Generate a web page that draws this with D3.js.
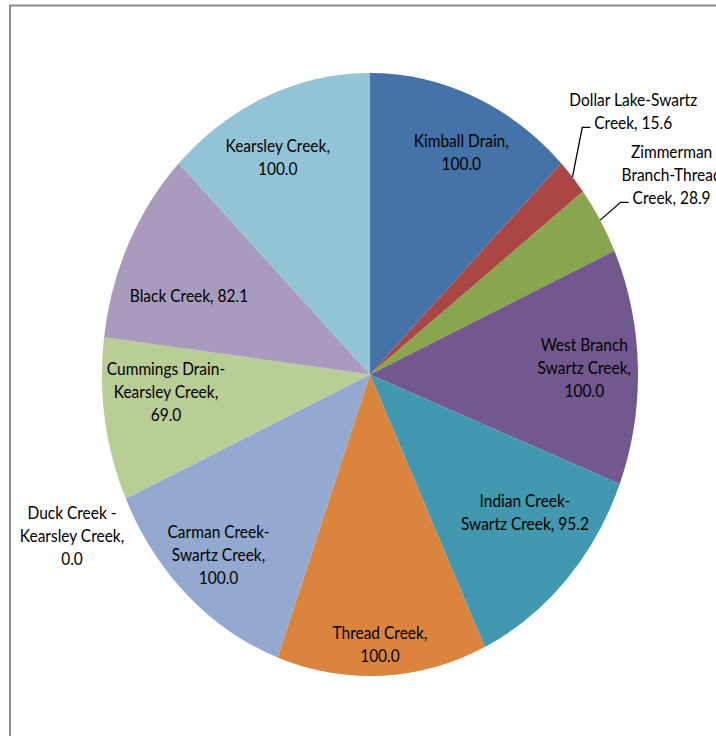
<!DOCTYPE html>
<html>
<head>
<meta charset="utf-8">
<script src="https://cdn.jsdelivr.net/npm/d3@7"></script>
<style>
  html, body { margin: 0; padding: 0; background: #fff; }
  svg { display: block; }
  .lbl { font-family: Lato, "Liberation Sans", sans-serif; font-size: 15.5px; fill: #000; }
</style>
</head>
<body>
<div id="chart"></div>
<script>
// Slice names ("\n" = where the label wraps inside the name)
const categories = [
    "Kimball Drain",
    "Dollar Lake-Swartz\nCreek",
    "Zimmerman\nBranch-Thread\nCreek",
    "West Branch\nSwartz Creek",
    "Indian Creek-\nSwartz Creek",
    "Thread Creek",
    "Carman Creek-\nSwartz Creek",
    "Duck Creek -\nKearsley Creek",
    "Cummings Drain-\nKearsley Creek",
    "Black Creek",
    "Kearsley Creek"
];
const values = [100.0, 15.6, 28.9, 100.0, 95.2, 100.0, 100.0, 0.0, 69.0, 82.1, 100.0];
// does the value go on its own line?
const valueOnNewLine = [true, false, false, true, false, true, true, true, true, false, true];

const colors = ["#4572A7", "#AA4643", "#89A54E", "#71588F", "#4198AF", "#DB843D",
    "#93A9CF", "#D19392", "#B9CD96", "#A99BBD", "#93C4D5"];

// label placement (fraction of radius, horizontal / vertical), Excel "best fit" look
const labelRx = [0.88, 1.30, 1.31, 0.80, 0.79, 0.82, 0.83, 1.22, 0.77, 0.75, 0.89];
const labelRy = [0.80, 1.33, 1.29, 0.80, 0.67, 0.895, 0.82, 1.30, 0.39, 0.60, 0.78];
const hasLeader = [false, true, true, false, false, false, false, false, false, false, false];

const width = 716, height = 736;
const cx = 370, cy = 374.5;
const rx = 268, ry = 301.5;
const stretch = ry / rx;
const lineH = 23;

const svg = d3.select("#chart").append("svg")
    .attr("width", width)
    .attr("height", height);

// chart frame
svg.append("rect")
    .attr("x", 10)
    .attr("y", 5.5)
    .attr("width", 900)
    .attr("height", 900)
    .attr("fill", "none")
    .attr("stroke", "#8c8c8c")
    .attr("stroke-width", 2);

const pie = d3.pie().sort(null).value(d => d);
const arcs = pie(values);

const arc = d3.arc().innerRadius(0).outerRadius(rx);

// pie is drawn as a circle then stretched vertically
const g = svg.append("g")
    .attr("transform", `translate(${cx},${cy}) scale(1,${stretch})`);

g.selectAll("path")
    .data(arcs)
    .enter()
    .append("path")
    .attr("d", arc)
    .attr("fill", (d, i) => colors[i]);

// point on the (stretched) pie at angle a, radius fraction fx/fy
function pt(a, fx, fy) {
    return [cx + rx * fx * Math.sin(a), cy - ry * fy * Math.cos(a)];
}

const labels = svg.append("g");

arcs.forEach((d, i) => {
    const mid = (d.startAngle + d.endAngle) / 2;
    const [x, y] = pt(mid, labelRx[i], labelRy[i]);
    const valTxt = values[i].toFixed(1);
    let lines = categories[i].split("\n");
    if (valueOnNewLine[i]) {
        lines[lines.length - 1] += ",";
        lines.push(valTxt);
    } else {
        lines[lines.length - 1] += ", " + valTxt;
    }
    const y0 = y - (lines.length - 1) * lineH / 2;

    const t = labels.append("text")
        .attr("class", "lbl")
        .attr("text-anchor", "middle")
        .attr("transform", `translate(${x},${y0}) scale(1,1.1)`);
    lines.forEach((s, k) => {
        t.append("tspan")
            .attr("x", 0)
            .attr("y", k * lineH / 1.1)
            .attr("dy", "0.35em")
            .text(s);
    });

    if (hasLeader[i]) {
        // leader from the left of the last line to the slice edge
        const last = t.selectAll("tspan").nodes()[lines.length - 1];
        const w = last.getComputedTextLength();
        const lx = x - w / 2 - 4;
        const ly = y0 + (lines.length - 1) * lineH + 4;
        const [ex, ey] = pt(mid, 1.0, 1.0);
        labels.append("path")
            .attr("d", `M${lx},${ly}H${lx - 8}L${ex},${ey}`)
            .attr("fill", "none")
            .attr("stroke", "#000")
            .attr("stroke-width", 1.3);
    }
});
</script>
</body>
</html>
